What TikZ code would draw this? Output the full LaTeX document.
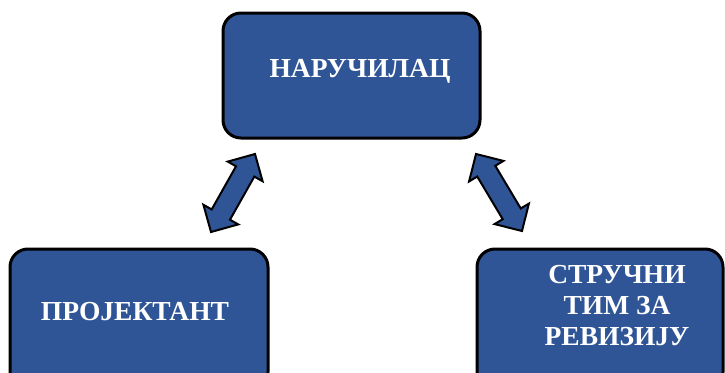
\documentclass[tikz,border=0pt]{standalone}
\usepackage{fontspec}
\setmainfont{Liberation Serif}
\usetikzlibrary{calc}
\definecolor{boxblue}{RGB}{47,85,151}
\tikzset{
  blockbox/.style={draw=black, line width=3pt, fill=boxblue, rounded corners=18pt},
  boxtext/.style={text=white, font=\bfseries\fontsize{27.5}{31}\selectfont, align=center, inner sep=0pt},
  blockarrow/.style={draw=black, line width=2pt, fill=boxblue, line join=miter}
}
\newcommand{\dblarrow}[2]{%
  \path coordinate (P1) at ($(#1)!20pt!(#2)$)
        coordinate (P2) at ($(#2)!20pt!(#1)$);
  \draw[blockarrow] (#1)
    -- ($(P1)!20pt!90:(#2)$) -- ($(P1)!10.5pt!90:(#2)$)
    -- ($(P2)!10.5pt!-90:(#1)$) -- ($(P2)!20pt!-90:(#1)$)
    -- (#2)
    -- ($(P2)!20pt!90:(#1)$) -- ($(P2)!10.5pt!90:(#1)$)
    -- ($(P1)!10.5pt!-90:(#2)$) -- ($(P1)!20pt!-90:(#2)$)
    -- cycle;}
\begin{document}
\begin{tikzpicture}[x=1pt,y=-1pt]
\useasboundingbox (0,0) rectangle (725,372);
\clip (0,0) rectangle (725,372);
% boxes
\draw[blockbox] (223,13) rectangle (480,138);
\draw[blockbox] (10,249) rectangle (268,390);
\draw[blockbox] (477,249) rectangle (723,390);
\node[boxtext] (nar) at (360,71) {НАРУЧИЛАЦ};
\node[boxtext] (proj) at (135,312) {ПРОЈЕКТАНТ};
\node[boxtext] (tim) at (617,306) {СТРУЧНИ\\ТИМ ЗА\\РЕВИЗИЈУ};
% arrows
\coordinate (a1) at (255,154);
\coordinate (a2) at (211,232);
\coordinate (b1) at (476,154);
\coordinate (b2) at (522,231);
\dblarrow{a1}{a2}
\dblarrow{b1}{b2}
\end{tikzpicture}
\end{document}
